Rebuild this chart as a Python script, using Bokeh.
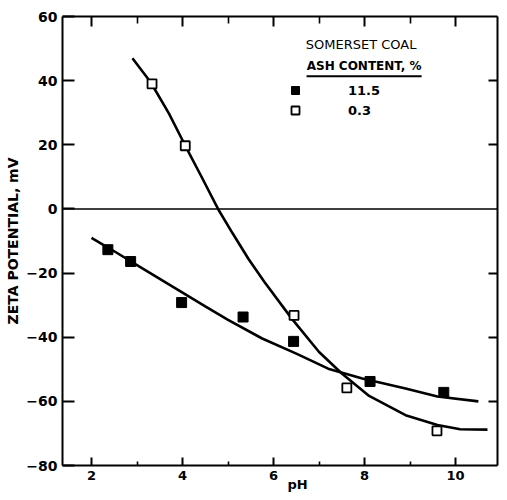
from bokeh.plotting import figure
from bokeh.models import (Range1d, LinearAxis, FixedTicker, Span, Label, Legend,
                          LegendItem, ColumnDataSource, Title)
from bokeh.embed import file_html
from bokeh.resources import INLINE

# ---------------- data ----------------
ph_high = [2.36, 2.86, 3.98, 5.33, 6.44, 8.12, 9.74]          # 11.5 % ash, filled
zeta_high = [-12.7, -16.4, -29.2, -33.7, -41.3, -53.8, -57.2]

ph_low = [3.33, 4.06, 6.45, 7.61, 9.59]                         # 0.3 % ash, open
zeta_low = [39.0, 19.7, -33.2, -55.8, -69.2]

curve_high_ph = [2.0, 2.5, 3.0, 3.5, 4.0, 4.5, 5.0, 5.75, 6.5, 7.2, 7.95, 8.9, 9.6, 10.5]
curve_high_zeta = [-9.0, -13.2, -17.5, -21.8, -26.1, -30.4, -34.6, -40.4, -45.1,
                   -49.8, -52.9, -56.0, -58.5, -60.0]

curve_low_ph = [2.9, 3.3, 3.7, 4.05, 4.4, 4.8, 5.1, 5.45, 5.8, 6.4, 7.0, 7.5, 8.1,
                8.9, 9.6, 10.1, 10.7]
curve_low_zeta = [47.0, 39.5, 29.8, 20.0, 10.5, -0.5, -7.6, -15.6, -22.8, -34.2,
                  -44.6, -51.3, -58.3, -64.3, -67.4, -68.7, -68.8]

x_ticks = [2, 4, 6, 8, 10]
x_minor = [3, 5, 7, 9]
y_ticks = [-80, -60, -40, -20, 0, 20, 40, 60]
y_inner_ticks = [-60, -40, -20, 20, 40]

legend_title = "SOMERSET COAL"
legend_sub = "ASH CONTENT, %"
legend_labels = ["11.5", "0.3"]
x_title = "pH"
y_title = "ZETA POTENTIAL, mV"

FONT = "DejaVu Sans"

# ---------------- figure ----------------
p = figure(width=499, height=492,
           x_range=Range1d(1.363, 10.92), y_range=Range1d(-80, 60),
           x_axis_location=None, y_axis_location=None,
           output_backend="svg", toolbar_location=None,
           min_border_left=62, min_border_right=2,
           min_border_top=16, min_border_bottom=27)
p.outline_line_color = None
p.background_fill_color = "white"
p.border_fill_color = "white"
for g in p.grid:
    g.visible = False


def style_axis(ax, tick_in, minor_in, ticks, labels=True, standoff=5):
    ax.axis_line_color = "black"
    ax.axis_line_width = 2
    ax.major_tick_in = tick_in
    ax.major_tick_out = 0
    ax.minor_tick_in = minor_in
    ax.minor_tick_out = 0
    ax.major_tick_line_width = 2
    ax.minor_tick_line_width = 1.6
    ax.major_tick_line_color = "black"
    ax.minor_tick_line_color = "black"
    ax.major_label_text_font = FONT
    ax.major_label_text_font_style = "bold"
    ax.major_label_text_color = "black"
    if labels:
        ax.major_label_text_font_size = "13px"
        ax.major_label_standoff = standoff
    else:
        ax.major_label_overrides = {t: "" for t in ticks}
        ax.major_label_text_font_size = "1px"
        ax.major_label_standoff = 0


bottom = LinearAxis(ticker=FixedTicker(ticks=x_ticks, minor_ticks=x_minor))
style_axis(bottom, 8, 4, x_ticks, True, 5)
p.add_layout(bottom, "below")

top = LinearAxis(ticker=FixedTicker(ticks=x_ticks, minor_ticks=x_minor))
style_axis(top, 10, 7, x_ticks, False)
p.add_layout(top, "above")

left = LinearAxis(ticker=FixedTicker(ticks=y_ticks, minor_ticks=[]))
style_axis(left, 12, 0, y_ticks, True, 5)
left.major_label_text_font_size = "14px"
left.axis_label = y_title
left.axis_label_standoff = 2
left.axis_label_text_font = FONT
left.axis_label_text_font_style = "bold"
left.axis_label_text_font_size = "14px"
left.axis_label_text_color = "black"
p.add_layout(left, "left")

right = LinearAxis(ticker=FixedTicker(ticks=y_inner_ticks, minor_ticks=[]))
style_axis(right, 9, 0, y_inner_ticks, False)
p.add_layout(right, "right")

# x-axis title placed below the tick labels, to the right of the "6"
xt = Title(text=x_title, align="left", offset=225, vertical_align="bottom",
           text_font=FONT, text_font_style="bold", text_font_size="13px",
           text_color="black")
if "standoff" in Title.properties():
    xt.standoff = -16
p.add_layout(xt, "below")

p.add_layout(Span(location=0, dimension="width", line_color="black", line_width=1.6))

# curves
p.line(curve_high_ph, curve_high_zeta, line_color="black", line_width=2.6)
p.line(curve_low_ph, curve_low_zeta, line_color="black", line_width=2.6)

# points
src_high = ColumnDataSource(dict(x=ph_high, y=zeta_high))
src_low = ColumnDataSource(dict(x=ph_low, y=zeta_low))
r_high = p.scatter("x", "y", source=src_high, marker="square", size=10,
                   fill_color="black", line_color="black", line_width=1)
r_low = p.scatter("x", "y", source=src_low, marker="square", size=9,
                  fill_color="white", line_color="black", line_width=1.8)

# legend
legend = Legend(items=[LegendItem(label=legend_labels[0], renderers=[r_high]),
                       LegendItem(label=legend_labels[1], renderers=[r_low])],
                location=(223, 345), orientation="vertical",
                glyph_width=20, glyph_height=20, label_height=14, spacing=-1,
                label_standoff=43, padding=0, margin=0,
                border_line_color=None, background_fill_alpha=0,
                label_text_font=FONT, label_text_font_style="bold",
                label_text_font_size="13px", label_text_color="black")
p.add_layout(legend)

p.add_layout(Label(x=7.923, y=51.27, text=legend_title, text_font=FONT,
                   text_font_size="13px", text_align="center", text_baseline="middle",
                   text_color="black"))
p.add_layout(Label(x=7.99, y=44.5, text=legend_sub, text_font=FONT,
                   text_font_style="bold", text_font_size="12px",
                   text_align="center", text_baseline="middle", text_color="black"))
p.segment(x0=[6.725], y0=[41.4], x1=[9.253], y1=[41.4], line_color="black", line_width=2)

open("out.html", "w").write(file_html(p, INLINE))
